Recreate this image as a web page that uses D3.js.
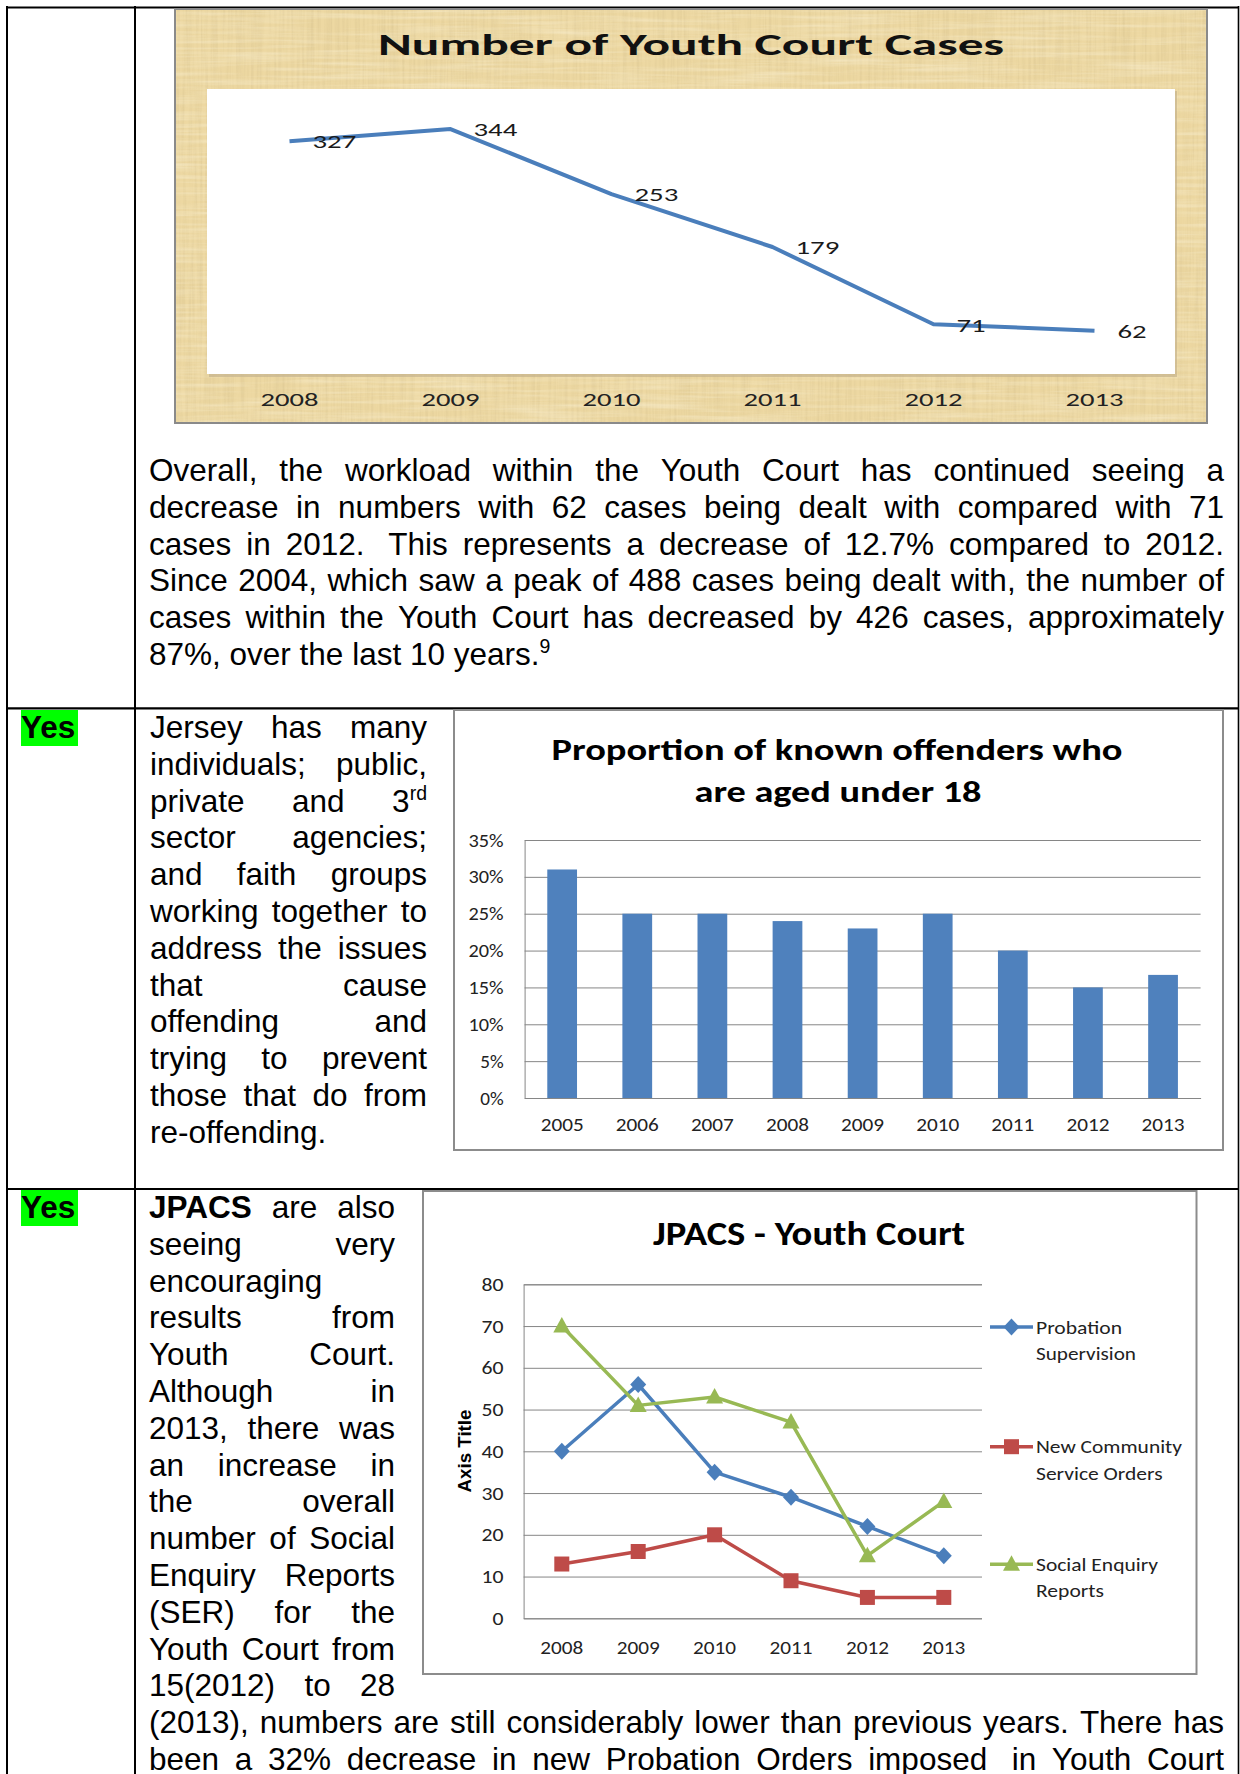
<!DOCTYPE html>
<html>
<head>
<meta charset="utf-8">
<script src="https://cdn.jsdelivr.net/npm/d3@7"></script>
<style>
  html, body { margin: 0; padding: 0; background: #fff; }
  svg { display: block; }
</style>
</head>
<body>
<svg id="page" width="1240" height="1774"></svg>
<script>
// ---- data ----
var caseYears = ["2008", "2009", "2010", "2011", "2012", "2013"];
var caseCounts = [327, 344, 253, 179, 71, 62];

var offenderYears = ["2005", "2006", "2007", "2008", "2009", "2010", "2011", "2012", "2013"];
var offenderShare = [0.31, 0.25, 0.25, 0.24, 0.23, 0.25, 0.20, 0.15, 0.167];
var shareTicks = [0, 0.05, 0.10, 0.15, 0.20, 0.25, 0.30, 0.35];

var jpacsYears = ["2008", "2009", "2010", "2011", "2012", "2013"];
var probation = [40, 56, 35, 29, 22, 15];
var communityOrders = [13, 16, 20, 9, 5, 5];
var socialReports = [70, 51, 53, 47, 15, 28];
var jpacsTicks = [0, 10, 20, 30, 40, 50, 60, 70, 80];
var jpacsSeries = [
  { name: ["Probation", "Supervision"], values: probation, color: "#4A7EBB", marker: "diamond" },
  { name: ["New Community", "Service Orders"], values: communityOrders, color: "#BE4B48", marker: "square" },
  { name: ["Social Enquiry", "Reports"], values: socialReports, color: "#98B954", marker: "triangle" }
];

// document text, one entry per printed line ( ^ = superscript, * = bold word )
var para1 = [
  "Overall, the workload within the Youth Court has continued seeing a",
  "decrease in numbers with 62 cases being dealt with compared with 71",
  "cases in 2012.  This represents a decrease of 12.7% compared to 2012.",
  "Since 2004, which saw a peak of 488 cases being dealt with, the number of",
  "cases within the Youth Court has decreased by 426 cases, approximately",
  "87%, over the last 10 years.^9"
];
var para2 = [
  "Jersey has many", "individuals; public,", "private and 3^rd", "sector agencies;",
  "and faith groups", "working together to", "address the issues", "that cause",
  "offending and", "trying to prevent", "those that do from", "re-offending."
];
var para3 = [
  "*JPACS are also", "seeing very", "encouraging", "results from", "Youth Court.",
  "Although in", "2013, there was", "an increase in", "the overall", "number of Social",
  "Enquiry Reports", "(SER) for the", "Youth Court from", "15(2012) to 28"
];
var para3wide = [
  "(2013), numbers are still considerably lower than previous years. There has",
  "been a 32% decrease in new Probation Orders imposed  in Youth Court"
];

var svg = d3.select("#page");
var chartFont = "Carlito, Lato, sans-serif";
var bodyFont = "'Liberation Sans', Arial, sans-serif";
var bodySize = 31.5;
var lineGap = 36.8;

// ---- texture filter for the first chart ----
var defs = svg.append("defs");
var f1 = defs.append("filter").attr("id", "fibreV").attr("x", 0).attr("y", 0).attr("width", 1).attr("height", 1);
f1.append("feTurbulence").attr("type", "fractalNoise").attr("baseFrequency", "0.35 0.012").attr("numOctaves", 3).attr("seed", 7);
f1.append("feColorMatrix").attr("type", "matrix")
  .attr("values", "0 0 0 0 0.70  0 0 0 0 0.56  0 0 0 0 0.28  0 0 0 1.7 -0.62");
var f2 = defs.append("filter").attr("id", "fibreH").attr("x", 0).attr("y", 0).attr("width", 1).attr("height", 1);
f2.append("feTurbulence").attr("type", "fractalNoise").attr("baseFrequency", "0.01 0.25").attr("numOctaves", 3).attr("seed", 3);
f2.append("feColorMatrix").attr("type", "matrix")
  .attr("values", "0 0 0 0 0.98  0 0 0 0 0.93  0 0 0 0 0.76  0 0 0 1.6 -0.62");

// ---- table grid ----
var grid = svg.append("g").attr("stroke", "#000").attr("fill", "none");
grid.append("line").attr("x1", 6).attr("x2", 1239).attr("y1", 7.5).attr("y2", 7.5).attr("stroke-width", 2.2);
grid.append("line").attr("x1", 7).attr("x2", 7).attr("y1", 6).attr("y2", 1774).attr("stroke-width", 2);
grid.append("line").attr("x1", 135).attr("x2", 135).attr("y1", 6).attr("y2", 1774).attr("stroke-width", 2);
grid.append("line").attr("x1", 1238.5).attr("x2", 1238.5).attr("y1", 6).attr("y2", 1774).attr("stroke-width", 1.6);
grid.append("line").attr("x1", 6).attr("x2", 1239).attr("y1", 708.3).attr("y2", 708.3).attr("stroke-width", 2.2);
grid.append("line").attr("x1", 6).attr("x2", 1239).attr("y1", 1189).attr("y2", 1189).attr("stroke-width", 2.2);

// ---- text helpers ----
function addToken(g, tok, size) {
  var bold = tok.charAt(0) === "*";
  if (bold) tok = tok.slice(1);
  var t = g.append("text").attr("font-family", bodyFont).attr("font-size", size)
    .attr("font-weight", bold ? "bold" : "normal").attr("fill", "#000");
  var parts = tok.split("^");
  t.append("tspan").text(parts[0]);
  if (parts.length > 1) {
    t.append("tspan").attr("font-size", size * 0.62).attr("dy", -size * 0.38).text(parts[1]);
  }
  return t;
}

function drawLine(g, text, x0, x1, y, justify) {
  // keep double spaces as wider gaps
  var toks = text.split(" ");
  var items = [];
  var extra = 0;
  toks.forEach(function(tok) {
    if (tok === "") { extra += 1; return; }
    var t = addToken(g, tok, bodySize);
    items.push({ node: t, w: t.node().getComputedTextLength(), pre: extra });
    extra = 0;
  });
  var space = bodySize * 0.278;
  var total = d3.sum(items, function(d) { return d.w + d.pre * space; });
  var gap = space;
  if (justify && items.length > 1) gap = (x1 - x0 - total) / (items.length - 1);
  var x = x0;
  items.forEach(function(d, i) {
    if (i > 0) x += d.pre * space;
    d.node.attr("x", x).attr("y", y);
    x += d.w + gap;
  });
}

function drawPara(lines, x0, x1, y0, lastLeft) {
  var g = svg.append("g");
  lines.forEach(function(line, i) {
    var last = lastLeft && i === lines.length - 1;
    var single = line.split(/ +/).length === 1;
    drawLine(g, line, x0, x1, y0 + i * lineGap, !(last || single));
  });
}

function fit(sel, w) {
  return sel.attr("textLength", w).attr("lengthAdjust", "spacingAndGlyphs");
}

// ---- "Yes" markers ----
[738, 1218].forEach(function(base) {
  svg.append("rect").attr("x", 21).attr("y", base - 28).attr("width", 57).attr("height", 36).attr("fill", "#00FF00");
  svg.append("text").attr("x", 21).attr("y", base).attr("font-family", bodyFont)
    .attr("font-weight", "bold").attr("font-size", bodySize).text("Yes");
});

// ---- paragraphs ----
drawPara(para1, 149, 1224, 481, true);
drawPara(para2, 150, 427, 738, true);
drawPara(para3, 149, 395, 1218, false);
drawPara(para3wide, 149, 1224, 1218 + para3.length * lineGap, false);

// ================= Chart 1: Number of Youth Court Cases =================
var c1 = svg.append("g");
c1.append("rect").attr("x", 175).attr("y", 9).attr("width", 1032).attr("height", 414).attr("fill", "#EDD8A2");
c1.append("rect").attr("x", 175).attr("y", 9).attr("width", 1032).attr("height", 414).attr("filter", "url(#fibreV)").attr("opacity", 0.6);
c1.append("rect").attr("x", 175).attr("y", 9).attr("width", 1032).attr("height", 414).attr("filter", "url(#fibreH)").attr("opacity", 0.5);
c1.append("rect").attr("x", 175).attr("y", 9).attr("width", 1032).attr("height", 414)
  .attr("fill", "none").attr("stroke", "#8A8A8A").attr("stroke-width", 2);
// plot area with a soft shadow
c1.append("rect").attr("x", 209).attr("y", 91).attr("width", 968).attr("height", 286).attr("fill", "#BFAE88").attr("opacity", 0.6);
c1.append("rect").attr("x", 207).attr("y", 89).attr("width", 968).attr("height", 285).attr("fill", "#fff");

c1.append("text").attr("x", 691).attr("y", 55).attr("text-anchor", "middle")
  .attr("font-family", chartFont).attr("font-weight", "bold").attr("font-size", 30).attr("fill", "#111")
  .call(fit, 626).text("Number of Youth Court Cases");

var x1s = d3.scalePoint().domain(caseYears).range([209, 1175]).padding(0.5);
var y1s = d3.scaleLinear().domain([0, 400]).range([375, 89]);

var caseData = caseYears.map(function(y, i) { return { year: y, value: caseCounts[i] }; });

c1.append("path").datum(caseData)
  .attr("fill", "none").attr("stroke", "#4A7EBB").attr("stroke-width", 4).attr("stroke-linejoin", "round")
  .attr("d", d3.line().x(function(d) { return x1s(d.year); }).y(function(d) { return y1s(d.value); }));

c1.selectAll(".dlab").data(caseData).enter().append("text")
  .attr("x", function(d) { return x1s(d.year) + 23; })
  .attr("y", function(d) { return y1s(d.value) + 1; })
  .attr("dy", "0.35em")
  .attr("font-family", chartFont).attr("font-size", 18).attr("fill", "#1a1a1a")
  .each(function(d) { fit(d3.select(this), String(d.value).length * 14.6); })
  .text(function(d) { return d.value; });

c1.selectAll(".xlab").data(caseYears).enter().append("text")
  .attr("x", function(d) { return x1s(d); }).attr("y", 406).attr("text-anchor", "middle")
  .attr("font-family", chartFont).attr("font-size", 18).attr("fill", "#222")
  .call(fit, 58).text(function(d) { return d; });

// ================= Chart 2: Proportion of known offenders =================
var c2 = svg.append("g");
c2.append("rect").attr("x", 454).attr("y", 710).attr("width", 769).attr("height", 440)
  .attr("fill", "#fff").attr("stroke", "#8C8C8C").attr("stroke-width", 2);
c2.append("text").attr("x", 837).attr("y", 760).attr("text-anchor", "middle")
  .attr("font-family", chartFont).attr("font-weight", "bold").attr("font-size", 31).attr("fill", "#000")
  .call(fit, 571).text("Proportion of known offenders who");
c2.append("text").attr("x", 838).attr("y", 802).attr("text-anchor", "middle")
  .attr("font-family", chartFont).attr("font-weight", "bold").attr("font-size", 31).attr("fill", "#000")
  .call(fit, 287).text("are aged under 18");

var x2 = d3.scaleBand().domain(offenderYears).range([524.6, 1200.6]).paddingInner(0.604).paddingOuter(0.302);
var y2 = d3.scaleLinear().domain([0, 0.35]).range([1098, 840]);

var yAxis2 = d3.axisLeft(y2).tickValues(shareTicks).tickFormat(d3.format(".0%"))
  .tickSize(-676).tickPadding(21);
var ya2 = c2.append("g").attr("transform", "translate(524.6,0)").call(yAxis2);
ya2.select(".domain").attr("stroke", "#868686");
ya2.selectAll(".tick line").attr("stroke", "#868686").attr("stroke-width", 1);
ya2.selectAll(".tick text").attr("font-family", chartFont).attr("font-size", 19).attr("fill", "#222")
  .each(function() { fit(d3.select(this), this.textContent.length * 11.7); });

c2.selectAll(".bar").data(offenderShare).enter().append("rect")
  .attr("x", function(d, i) { return x2(offenderYears[i]); })
  .attr("y", function(d) { return y2(d); })
  .attr("width", x2.bandwidth())
  .attr("height", function(d) { return y2(0) - y2(d); })
  .attr("fill", "#4F81BD");

var xAxis2 = d3.axisBottom(x2).tickSize(0).tickPadding(20);
var xa2 = c2.append("g").attr("transform", "translate(0,1098)").call(xAxis2);
xa2.select(".domain").attr("stroke", "#868686");
xa2.selectAll(".tick text").attr("font-family", chartFont).attr("font-size", 19).attr("fill", "#222").call(fit, 43);

// ================= Chart 3: JPACS - Youth Court =================
var c3 = svg.append("g");
c3.append("rect").attr("x", 423).attr("y", 1191).attr("width", 773.5).attr("height", 483)
  .attr("fill", "#fff").attr("stroke", "#8C8C8C").attr("stroke-width", 2);
c3.append("text").attr("x", 809).attr("y", 1245).attr("text-anchor", "middle")
  .attr("font-family", chartFont).attr("font-weight", "bold").attr("font-size", 34).attr("fill", "#000")
  .call(fit, 312).text("JPACS - Youth Court");

var x3 = d3.scalePoint().domain(jpacsYears).range([523.6, 982]).padding(0.5);
var y3 = d3.scaleLinear().domain([0, 80]).range([1618.3, 1284.3]);

var yAxis3 = d3.axisLeft(y3).tickValues(jpacsTicks).tickSize(-458.4).tickPadding(20);
var ya3 = c3.append("g").attr("transform", "translate(523.6,0)").call(yAxis3);
ya3.select(".domain").attr("stroke", "#868686");
ya3.selectAll(".tick line").attr("stroke", "#868686").attr("stroke-width", 1);
ya3.selectAll(".tick text").attr("font-family", chartFont).attr("font-size", 19).attr("fill", "#222")
  .each(function() { fit(d3.select(this), this.textContent.length * 11); });

c3.selectAll(".xlab").data(jpacsYears).enter().append("text")
  .attr("x", function(d) { return x3(d); }).attr("y", 1654).attr("text-anchor", "middle")
  .attr("font-family", chartFont).attr("font-size", 19).attr("fill", "#222")
  .call(fit, 43).text(function(d) { return d; });

c3.append("text")
  .attr("transform", "translate(471,1451) rotate(-90)")
  .attr("text-anchor", "middle").attr("font-family", bodyFont).attr("font-weight", "bold")
  .attr("font-size", 18).attr("fill", "#000").call(fit, 83).text("Axis Title");

function marker(g, type, x, y, color) {
  if (type === "diamond") {
    g.append("path").attr("d", "M" + x + "," + (y - 8.5) + "L" + (x + 8) + "," + y + "L" + x + "," + (y + 8.5) + "L" + (x - 8) + "," + y + "Z")
      .attr("fill", color);
  } else if (type === "square") {
    g.append("rect").attr("x", x - 7.5).attr("y", y - 7.5).attr("width", 15).attr("height", 15).attr("fill", color);
  } else {
    g.append("path").attr("d", "M" + x + "," + (y - 9) + "L" + (x + 8.5) + "," + (y + 6.5) + "L" + (x - 8.5) + "," + (y + 6.5) + "Z")
      .attr("fill", color);
  }
}

var line3 = d3.line().x(function(d, i) { return x3(jpacsYears[i]); }).y(function(d) { return y3(d); });
jpacsSeries.forEach(function(s) {
  c3.append("path").datum(s.values).attr("fill", "none").attr("stroke", s.color)
    .attr("stroke-width", 3.5).attr("stroke-linejoin", "round").attr("d", line3);
});
jpacsSeries.forEach(function(s) {
  s.values.forEach(function(v, i) { marker(c3, s.marker, x3(jpacsYears[i]), y3(v), s.color); });
});

// legend
var legendY = [1327, 1446.7, 1564.3];
var legendW = [[86, 100], [146, 126.6], [122, 68]];
jpacsSeries.forEach(function(s, k) {
  var ly = legendY[k];
  c3.append("line").attr("x1", 990).attr("x2", 1033).attr("y1", ly).attr("y2", ly)
    .attr("stroke", s.color).attr("stroke-width", 3.5);
  marker(c3, s.marker, 1011.5, ly, s.color);
  s.name.forEach(function(n, j) {
    c3.append("text").attr("x", 1036).attr("y", ly + j * 26.5).attr("dy", "0.35em")
      .attr("font-family", chartFont).attr("font-size", 19).attr("fill", "#222")
      .call(fit, legendW[k][j]).text(n);
  });
});
</script>
</body>
</html>
